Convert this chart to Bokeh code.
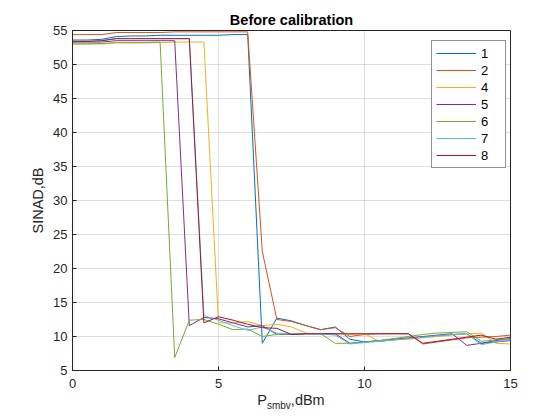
import numpy as np
from bokeh.plotting import figure
from bokeh.layouts import column
from bokeh.models import Range1d, FixedTicker, Legend, LegendItem, Title, Div
from bokeh.embed import file_html
from bokeh.resources import INLINE

# ---- data ----
x = [0, 0.5, 1, 1.5, 2, 2.5, 3, 3.5, 4, 4.5, 5, 5.5, 6, 6.5, 7, 7.5, 8, 8.5, 9, 9.5,
     10, 10.5, 11, 11.5, 12, 12.5, 13, 13.5, 14, 14.5, 15]

s1 = [53.6, 53.6, 53.7, 54.1, 54.2, 54.2, 54.3, 54.3, 54.3, 54.3, 54.3, 54.4, 54.4, 9.0, 12.7, 12.3,
      11.6, 11.0, 11.4, 9.6, 9.2, 9.3, 9.5, 9.7, 9.9, 10.1, 10.3, 10.4, 9.0, 9.4, 9.7]
s2 = [54.4, 54.4, 54.4, 54.7, 54.7, 54.7, 54.7, 54.8, 54.8, 54.8, 54.8, 54.8, 54.8, 22.5, 12.5, 12.2,
      11.6, 11.0, 11.3, 10.0, 10.3, 10.4, 10.4, 10.4, 8.9, 9.2, 9.5, 9.8, 9.9, 10.0, 10.2]
s4 = [53.1, 53.1, 53.0, 53.2, 53.2, 53.2, 53.2, 53.3, 53.3, 53.3, 12.0, 12.0, 12.2, 11.6, 11.8, 11.4,
      10.5, 10.4, 10.4, 10.3, 10.4, 9.3, 9.5, 9.6, 9.8, 10.0, 10.2, 10.4, 10.5, 9.0, 8.9]
s5 = [53.3, 53.3, 53.3, 53.5, 53.5, 53.5, 53.5, 53.5, 11.6, 12.8, 12.6, 12.0, 11.4, 11.6, 10.3, 10.3,
      10.4, 10.4, 10.4, 9.0, 9.2, 9.4, 9.6, 9.8, 10.0, 10.2, 10.4, 8.7, 9.0, 9.2, 9.4]
s6 = [53.0, 53.0, 53.1, 53.2, 53.2, 53.2, 53.3, 6.9, 12.4, 12.5, 11.8, 11.0, 11.1, 10.0, 10.3, 10.4,
      10.4, 10.4, 9.0, 9.0, 9.2, 9.4, 9.7, 10.0, 10.3, 10.5, 10.6, 10.7, 9.3, 9.5, 9.6]
s7 = [53.4, 53.4, 53.5, 53.8, 53.8, 53.8, 53.8, 53.8, 53.8, 13.1, 12.4, 11.6, 10.9, 11.4, 10.5, 10.4,
      10.4, 10.4, 10.2, 8.9, 9.1, 9.3, 9.5, 9.7, 9.9, 10.1, 10.3, 10.4, 8.8, 9.2, 9.5]
s8 = [53.4, 53.4, 53.5, 53.8, 53.8, 53.8, 53.8, 53.8, 53.8, 12.0, 12.9, 12.4, 11.8, 11.3, 11.2, 10.3,
      10.4, 10.4, 10.4, 10.4, 10.4, 10.4, 10.4, 10.4, 9.0, 9.3, 9.6, 9.9, 10.2, 9.6, 9.9]

series = [s1, s2, s4, s5, s6, s7, s8]
names = ["1", "2", "4", "5", "6", "7", "8"]
colors = ["#0072BD", "#D95319", "#EDB120", "#7E2F8E", "#77AC30", "#4DBEEE", "#A2142F"]

x_ticks = [0, 5, 10, 15]
y_ticks = [5, 10, 15, 20, 25, 30, 35, 40, 45, 50, 55]
title_text = "Before calibration"
ylabel_text = "SINAD,dB"
xlabel_main, xlabel_sub, xlabel_unit = "P", "smbv", ",dBm"

FONT = "Liberation Sans"
AX = "#262626"

p = figure(width=552, height=392, output_backend="svg", toolbar_location=None,
           x_range=Range1d(0, 15), y_range=Range1d(5, 55),
           min_border_left=72, min_border_right=42, min_border_top=30, min_border_bottom=22)
p.background_fill_color = "white"
p.border_fill_color = "white"
p.outline_line_color = AX
p.outline_line_width = 1

p.title = Title(text=title_text, align="center", text_font=FONT, text_font_size="14.5px",
                text_font_style="bold", text_color="#000000", standoff=6)

renderers = []
for s, c in zip(series, colors):
    r = p.line(x, s, line_color=c, line_width=1)
    renderers.append(r)

for ax in (p.xaxis[0], p.yaxis[0]):
    ax.axis_line_color = AX
    ax.major_tick_line_color = AX
    ax.major_tick_in = 4
    ax.major_tick_out = 0
    ax.minor_tick_line_color = None
    ax.major_label_text_font = FONT
    ax.major_label_text_font_size = "13px"
    ax.major_label_text_color = AX

p.xaxis.ticker = FixedTicker(ticks=x_ticks)
p.yaxis.ticker = FixedTicker(ticks=y_ticks)
p.xaxis.major_label_standoff = 8
p.yaxis.major_label_standoff = 5
p.yaxis.axis_label = ylabel_text
p.yaxis.axis_label_text_font = FONT
p.yaxis.axis_label_text_font_size = "14.5px"
p.yaxis.axis_label_text_font_style = "normal"
p.yaxis.axis_label_text_color = AX
p.yaxis.axis_label_standoff = 4

p.xgrid.ticker = FixedTicker(ticks=x_ticks)
p.ygrid.ticker = FixedTicker(ticks=y_ticks)
p.grid.grid_line_color = AX
p.grid.grid_line_alpha = 0.15

legend = Legend(items=[LegendItem(label=n, renderers=[r]) for n, r in zip(names, renderers)],
                location=(359, 202))
legend.border_line_color = AX
legend.border_line_width = 1
legend.background_fill_color = "white"
legend.background_fill_alpha = 1
legend.label_text_font = FONT
legend.label_text_font_size = "13px"
legend.label_text_color = "#000000"
legend.glyph_width = 40
legend.glyph_height = 16
legend.label_height = 16
legend.label_standoff = 5
legend.spacing = 1
legend.padding = 4
legend.margin = 0
p.add_layout(legend)

xlabel = Div(text=f'{xlabel_main}<sub style="font-size:10px">{xlabel_sub}</sub>{xlabel_unit}',
             width=438, height=28, margin=(0, 0, 0, 72),
             styles={"font-family": FONT, "font-size": "14.5px", "color": AX,
                     "text-align": "center", "line-height": "17px", "padding-top": "0px",
                     "background-color": "white"})

layout = column(p, xlabel, spacing=0)
open("out.html", "w").write(file_html(layout, INLINE))
